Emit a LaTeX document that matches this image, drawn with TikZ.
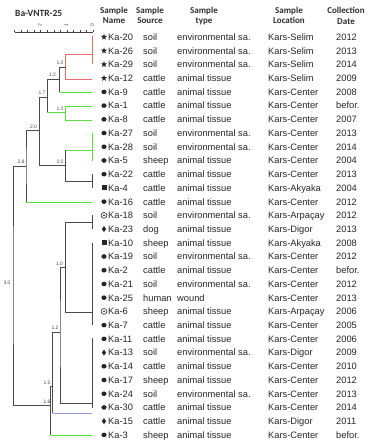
\documentclass[tikz,border=0pt]{standalone}
\usepackage{fontspec}
\setmainfont{Liberation Sans}
\newfontfamily\hdrfont{Carlito}
\usetikzlibrary{shapes.geometric}
\definecolor{treeblk}{RGB}{75,75,75}
\definecolor{treered}{RGB}{238,105,105}
\definecolor{treegrn}{RGB}{85,228,60}
\definecolor{treeblu}{RGB}{150,150,238}
\definecolor{txtcol}{RGB}{38,38,38}
\tikzset{
  trb/.style={line width=0.8pt, treeblk},
  trr/.style={line width=0.8pt, treered},
  trg/.style={line width=0.8pt, treegrn},
  trbl/.style={line width=0.8pt, treeblu},
  nlab/.style={font=\fontsize{5}{5}\selectfont, text=black!70, inner sep=0},
  dtxt/.style={font=\fontsize{9.3}{10}\selectfont, text=txtcol, anchor=base west, inner sep=0},
  hdr/.style={font=\hdrfont\bfseries\fontsize{9}{10}\selectfont, text=black!82, anchor=base, inner sep=0},
  starsym/.style={star, star points=5, star point ratio=2.4, minimum size=6.6pt, inner sep=0, fill=txtcol},
  dotsym/.style={ellipse, minimum width=5.2pt, minimum height=4.6pt, inner sep=0, fill=txtcol},
  sqsym/.style={rectangle, minimum size=5pt, inner sep=0, fill=txtcol},
  diasym/.style={diamond, minimum width=4.4pt, minimum height=6.2pt, inner sep=0, fill=txtcol},
  odotsym/.style={circle, draw=txtcol, line width=0.6pt, minimum size=5.8pt, inner sep=0, fill=white,
    path picture={\fill[txtcol] (path picture bounding box.center) circle (0.9pt);}},
}
\newcommand\mkS[2]{\node[starsym] (sym#1) at (104,#2) {};}
\newcommand\mkC[2]{\node[dotsym] (sym#1) at (104,#2) {};}
\newcommand\mkQ[2]{\node[sqsym] (sym#1) at (104,#2) {};}
\newcommand\mkD[2]{\node[diasym] (sym#1) at (104,#2) {};}
\newcommand\mkO[2]{\node[odotsym] (sym#1) at (104,#2) {};}
\begin{document}
\begin{tikzpicture}[x=1pt,y=-1pt]
\fill[white] (0,0) rectangle (368,443);
\useasboundingbox (0,0) rectangle (368,443);

% title and scale bar
\node[font=\hdrfont\bfseries\fontsize{9.5}{10}\selectfont, text=black!82, anchor=base west, inner sep=0] (title) at (15,16.3) {Ba-VNTR-25};
\coordinate (sb0) at (14.5,32);
\coordinate (sb1) at (93,32);
\draw[line width=0.6pt, black!75] (sb0) -- (sb1);
\foreach \k in {0,...,12} {\draw[line width=0.4pt, black!75] (14.5+6.54*\k,32) -- ++(0,-1.6);}
\node[nlab, rotate=90] (sc2) at (40,25.5) {2};
\node[nlab, rotate=90] (sc1) at (66.2,25.5) {1};
\node[nlab, rotate=90] (sc0) at (92.2,25.5) {0};

% headers
\node[hdr] (h1a) at (114,13.8) {Sample};   \node[hdr] (h1b) at (114,24) {Name};
\node[hdr] (h2a) at (150,13.8) {Sample};   \node[hdr] (h2b) at (150,24) {Source};
\node[hdr] (h3a) at (204,13.8) {Sample};   \node[hdr] (h3b) at (204,24) {type};
\node[hdr] (h4a) at (289,13.8) {Sample};   \node[hdr] (h4b) at (289,24) {Location};
\node[hdr] (h5a) at (346,13.8) {Collection}; \node[hdr] (h5b) at (346,24.5) {Date};

% rows
\foreach \i/\sy/\nm/\src/\typ/\loc/\dt in {
1/S/Ka-20/soil/environmental sa./Kars-Selim/2012,
2/S/Ka-26/soil/environmental sa./Kars-Selim/2013,
3/S/Ka-29/soil/environmental sa./Kars-Selim/2014,
4/S/Ka-12/cattle/animal tissue/Kars-Selim/2009,
5/C/Ka-9/cattle/animal tissue/Kars-Center/2008,
6/C/Ka-1/cattle/animal tissue/Kars-Center/befor.,
7/C/Ka-8/cattle/animal tissue/Kars-Center/2007,
8/C/Ka-27/soil/environmental sa./Kars-Center/2013,
9/C/Ka-28/soil/environmental sa./Kars-Center/2014,
10/C/Ka-5/sheep/animal tissue/Kars-Center/2004,
11/C/Ka-22/cattle/animal tissue/Kars-Center/2013,
12/Q/Ka-4/cattle/animal tissue/Kars-Akyaka/2004,
13/C/Ka-16/cattle/animal tissue/Kars-Center/2012,
14/O/Ka-18/soil/environmental sa./Kars-Arpaçay/2012,
15/D/Ka-23/dog/animal tissue/Kars-Digor/2013,
16/Q/Ka-10/sheep/animal tissue/Kars-Akyaka/2008,
17/C/Ka-19/soil/environmental sa./Kars-Center/2012,
18/C/Ka-2/cattle/animal tissue/Kars-Center/befor.,
19/C/Ka-21/soil/environmental sa./Kars-Center/2012,
20/C/Ka-25/human/wound/Kars-Center/2013,
21/O/Ka-6/sheep/animal tissue/Kars-Arpaçay/2006,
22/C/Ka-7/cattle/animal tissue/Kars-Center/2005,
23/C/Ka-11/cattle/animal tissue/Kars-Center/2006,
24/D/Ka-13/soil/environmental sa./Kars-Digor/2009,
25/C/Ka-14/cattle/animal tissue/Kars-Center/2010,
26/C/Ka-17/sheep/animal tissue/Kars-Center/2012,
27/C/Ka-24/soil/environmental sa./Kars-Center/2013,
28/C/Ka-30/cattle/animal tissue/Kars-Center/2014,
29/D/Ka-15/cattle/animal tissue/Kars-Digor/2011,
30/C/Ka-3/sheep/animal tissue/Kars-Center/befor.}
{
  \pgfmathsetmacro\yy{37+13.72*(\i-1)}
  \pgfmathsetmacro\yb{\yy+3.4}
  \csname mk\sy\endcsname{\i}{\yy}
  \node[dtxt] (nm\i) at (108,\yb) {\nm};
  \node[dtxt] (src\i) at (143,\yb) {\src};
  \node[dtxt] (typ\i) at (177,\yb) {\typ};
  \node[dtxt] (loc\i) at (268,\yb) {\loc};
  \node[dtxt] (dt\i) at (336,\yb) {\dt};
}

% tree: leaf tips and cluster bars
\coordinate (cRed) at (92,54);  \coordinate (cRedT) at (92,36); \coordinate (cRedB) at (92,64.5);
\coordinate (lKa12) at (92,79);
\coordinate (lKa9) at (92,92);
\coordinate (lKa1) at (92,106);
\coordinate (lKa8) at (92,120);
\coordinate (cGrn) at (92,150); \coordinate (cGrnT) at (92,133); \coordinate (cGrnB) at (92,161);
\coordinate (cBk) at (92,181);  \coordinate (cBkT) at (92,174); \coordinate (cBkB) at (92,188);
\coordinate (lKa16) at (92,202);
\coordinate (cA) at (92,222);   \coordinate (cAT) at (92,215); \coordinate (cAB) at (92,229);
\coordinate (cB) at (92,312);   \coordinate (cBT) at (92,243); \coordinate (cBB) at (92,325);
\coordinate (cC) at (92,403);   \coordinate (cCT) at (92,338); \coordinate (cCB) at (92,407.5);
\coordinate (lKa15) at (92,413);
\coordinate (lKa3) at (92,435);
% internal nodes
\coordinate (nR) at (65.7,67);
\coordinate (nU12) at (59.5,79);
\coordinate (nG) at (65.7,112);
\coordinate (nU17) at (47.3,97);
\coordinate (nM) at (65.7,165);
\coordinate (n20) at (39.4,130);
\coordinate (n28) at (26,166);
\coordinate (nL10) at (65.7,267);
\coordinate (nL12) at (60,332);
\coordinate (n15) at (52.5,386);
\coordinate (n16) at (50.5,405);
\coordinate (root) at (13,285);

% branches
\draw[trr] (cRedT) -- (cRedB);
\draw[trr] (cRed) -| (nR) |- (lKa12);
\draw[trb] (nR) -| (nU12) -- (nU12 |- lKa9);
\draw[trg] (nU12 |- lKa9) -- (lKa9);
\draw[trg] (lKa1) -| (nG) |- (lKa8);
\draw[trb] (nU12) -| (nU17) -- (nU17 |- nG);
\draw[trg] (nU17 |- nG) -- (nG);
\draw[trg] (cGrnT) -- (cGrnB);
\draw[trg] (cGrn) -- (nM |- cGrn);
\draw[trb] (nM |- cGrn) -- (nM) |- (cBk);
\draw[trb] (cBkT) -- (cBkB);
\draw[trb] (nU17) -| (n20) |- (nM);
\draw[trb] (n20) -| (n28) -- (n28 |- lKa16);
\draw[trg] (n28 |- lKa16) -- (lKa16);
\draw[trb] (cAT) -- (cAB);
\draw[trb] (cBT) -- (cBB);
\draw[trb] (cCT) -- (cCB);
\draw[trb] (cA) -| (nL10) |- (cB);
\draw[trb] (nL10) -| (nL12) |- (cC);
\draw[trb] (nL12) -| (n15) -- (n15 |- lKa15);
\draw[trbl] (n15 |- lKa15) -- (lKa15);
\draw[trb] (n15) -| (n16) -- (n16 |- lKa3);
\draw[trg] (n16 |- lKa3) -- (lKa3);
\draw[trb] (n28) -| (root) |- (n16);

% node height labels
\node[nlab] (b1) at (60,63) {1.0};
\node[nlab] (b2) at (52.5,75) {1.2};
\node[nlab] (b3) at (42,93) {1.7};
\node[nlab] (b4) at (60,108.5) {1.0};
\node[nlab] (b5) at (33.5,126.5) {2.0};
\node[nlab] (b6) at (60,161.5) {1.0};
\node[nlab] (b7) at (21,162) {2.8};
\node[nlab] (b8) at (59.5,263.5) {1.0};
\node[nlab] (b9) at (7,283) {3.0};
\node[nlab] (b10) at (55,328) {1.2};
\node[nlab] (b11) at (47,382.5) {1.5};
\node[nlab] (b12) at (47,401.5) {1.6};
\end{tikzpicture}
\end{document}
